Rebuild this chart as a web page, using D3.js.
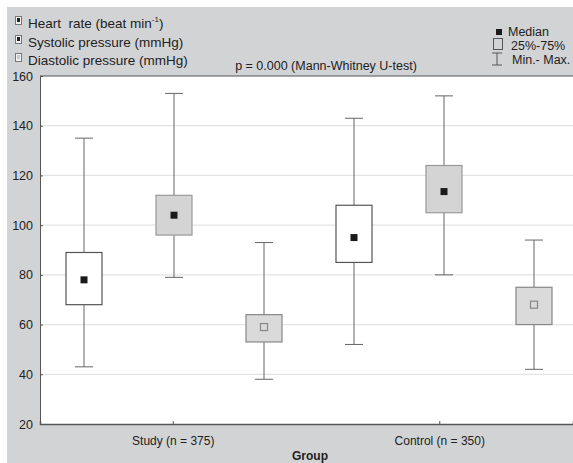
<!DOCTYPE html>
<html><head><meta charset="utf-8">
<script src="https://cdn.jsdelivr.net/npm/d3@7"></script>
<style>body{margin:0;background:#fff}svg{display:block;font-family:"Liberation Sans",Arial,sans-serif}</style>
</head><body><svg id="c" width="573" height="463"></svg>
<script>
const groups = ["Study (n = 375)", "Control (n = 350)"];
const seriesNames = ["Heart  rate (beat min", "Systolic pressure (mmHg)", "Diastolic pressure (mmHg)"];
const seriesKeys = ["heart", "systolic", "diastolic"];
// [min, q1, median, q3, max] per group
const heart     = [[43, 68, 78, 89, 135], [52, 85, 95, 108, 143]];
const systolic  = [[79, 96, 104, 112, 153], [80, 105, 113.5, 124, 152]];
const diastolic = [[38, 53, 59, 64, 93], [42, 60, 68, 75, 94]];
const yTicks = [20, 40, 60, 80, 100, 120, 140, 160];

const svg = d3.select("#c");
const W = 573, H = 463;
const m = {l: 40, r: 0, t: 76, b: 39};
svg.append("rect").attr("x", 7).attr("y", 7).attr("width", W - 7).attr("height", H - 7).attr("fill", "#d2d3d5");

const plotW = W - m.l - m.r, plotH = H - m.t - m.b;
const y = d3.scaleLinear().domain([20, 160]).range([H - m.b, m.t]);
const xg = d3.scaleBand().domain(groups).range([m.l, W - m.r]);
const slots = [];
groups.forEach(g => seriesKeys.forEach(k => slots.push(g + "|" + k)));
const xs = d3.scalePoint().domain(slots).range([84, 534]);

svg.append("rect").attr("x", m.l).attr("y", m.t).attr("width", plotW).attr("height", plotH).attr("fill", "#fff");

// grid
svg.append("g").selectAll("line").data(yTicks.slice(1, -1)).join("line")
  .attr("x1", m.l).attr("x2", W - m.r).attr("y1", d => y(d)).attr("y2", d => y(d))
  .attr("stroke", "#e4e4e4").attr("stroke-width", 1.3);

// axes
const ya = svg.append("g").attr("transform", `translate(${m.l},0)`)
  .call(d3.axisLeft(y).tickValues(yTicks).tickSize(-3).tickPadding(7));
ya.select(".domain").attr("stroke", "#555");
ya.selectAll(".tick line").attr("stroke", "#555");
ya.selectAll("text").attr("font-size", 12.5).attr("fill", "#222").attr("font-family", "Liberation Sans, Arial");

const xa = svg.append("g").attr("transform", `translate(0,${H - m.b})`)
  .call(d3.axisBottom(xg).tickSize(-3).tickPadding(12));
xa.select(".domain").attr("stroke", "#555").attr("stroke-width", 1.5);
xa.selectAll(".tick line").attr("stroke", "#555");
xa.selectAll("text").attr("font-size", 12).attr("fill", "#222").attr("font-family", "Liberation Sans, Arial");

svg.append("line").attr("x1", m.l).attr("x2", W).attr("y1", m.t).attr("y2", m.t).attr("stroke", "#555");

// boxes
const data = {heart, systolic, diastolic};
const styles = {
  heart: {fill: "#fff", stroke: "#555", med: "#1a1a1a", medStroke: "none"},
  systolic: {fill: "#d4d4d4", stroke: "#999", med: "#1a1a1a", medStroke: "none"},
  diastolic: {fill: "#dadada", stroke: "#888", med: "#dadada", medStroke: "#888"}
};
const bw = 36, cw = 18, ms = 7;
const boxes = [];
groups.forEach((g, gi) => seriesKeys.forEach(k => {
  const v = data[k][gi];
  boxes.push({cx: xs(g + "|" + k), k, min: v[0], q1: v[1], med: v[2], q3: v[3], max: v[4]});
}));
const bg = svg.append("g").selectAll("g").data(boxes).join("g");
bg.append("line").attr("x1", d => d.cx).attr("x2", d => d.cx).attr("y1", d => y(d.max)).attr("y2", d => y(d.q3)).attr("stroke", "#666");
bg.append("line").attr("x1", d => d.cx).attr("x2", d => d.cx).attr("y1", d => y(d.q1)).attr("y2", d => y(d.min)).attr("stroke", "#666");
bg.append("line").attr("x1", d => d.cx - cw / 2).attr("x2", d => d.cx + cw / 2).attr("y1", d => y(d.max)).attr("y2", d => y(d.max)).attr("stroke", "#666");
bg.append("line").attr("x1", d => d.cx - cw / 2).attr("x2", d => d.cx + cw / 2).attr("y1", d => y(d.min)).attr("y2", d => y(d.min)).attr("stroke", "#666");
bg.append("rect").attr("x", d => d.cx - bw / 2).attr("width", bw).attr("y", d => y(d.q3)).attr("height", d => y(d.q1) - y(d.q3))
  .attr("fill", d => styles[d.k].fill).attr("stroke", d => styles[d.k].stroke).attr("stroke-width", 1.2);
bg.append("rect").attr("x", d => d.cx - ms / 2).attr("width", ms).attr("y", d => y(d.med) - ms / 2).attr("height", ms)
  .attr("fill", d => styles[d.k].med).attr("stroke", d => styles[d.k].medStroke).attr("stroke-width", 1.2);

// left legend
const lg = svg.append("g");
const legY = [23, 42, 60];
seriesKeys.forEach((k, i) => {
  lg.append("rect").attr("x", 15.5).attr("y", legY[i] - 6.5).attr("width", 6).attr("height", 8)
    .attr("fill", "#f2f2f2").attr("stroke", "#777").attr("stroke-width", 1);
  lg.append("rect").attr("x", 17).attr("y", legY[i] - 5).attr("width", 3).attr("height", 4)
    .attr("fill", k === "diastolic" ? "#ccc" : "#222");
  const t = lg.append("text").attr("x", 28).attr("y", legY[i] + 5).attr("font-size", 13.5).attr("fill", "#222")
    .style("white-space", "pre").text(seriesNames[i]);
  if (k === "heart") {
    t.append("tspan").attr("font-size", 8).attr("dy", -6).text("-1");
    t.append("tspan").attr("dy", 6).text(")");
  }
});

svg.append("text").attr("x", 326).attr("y", 70).attr("text-anchor", "middle").attr("font-size", 12.5).attr("fill", "#222")
  .text("p = 0.000 (Mann-Whitney U-test)");

// right legend
const rg = svg.append("g");
rg.append("rect").attr("x", 496).attr("y", 29).attr("width", 6).attr("height", 6).attr("fill", "#1a1a1a");
rg.append("text").attr("x", 508).attr("y", 36).attr("font-size", 12.5).attr("fill", "#222").text("Median");
rg.append("rect").attr("x", 493.5).attr("y", 38.5).attr("width", 9).attr("height", 11).attr("fill", "none").attr("stroke", "#555");
rg.append("text").attr("x", 511).attr("y", 50).attr("font-size", 12.5).attr("fill", "#222").text("25%-75%");
rg.append("line").attr("x1", 497).attr("x2", 497).attr("y1", 53).attr("y2", 65).attr("stroke", "#555");
rg.append("line").attr("x1", 492).attr("x2", 502).attr("y1", 53).attr("y2", 53).attr("stroke", "#555");
rg.append("line").attr("x1", 492).attr("x2", 502).attr("y1", 65).attr("y2", 65).attr("stroke", "#555");
rg.append("text").attr("x", 512).attr("y", 64).attr("font-size", 12.5).attr("fill", "#222").text("Min.- Max.");

svg.append("text").attr("x", 310).attr("y", 460).attr("text-anchor", "middle").attr("font-size", 12).attr("font-weight", "bold").attr("fill", "#222").text("Group");
</script></body></html>
